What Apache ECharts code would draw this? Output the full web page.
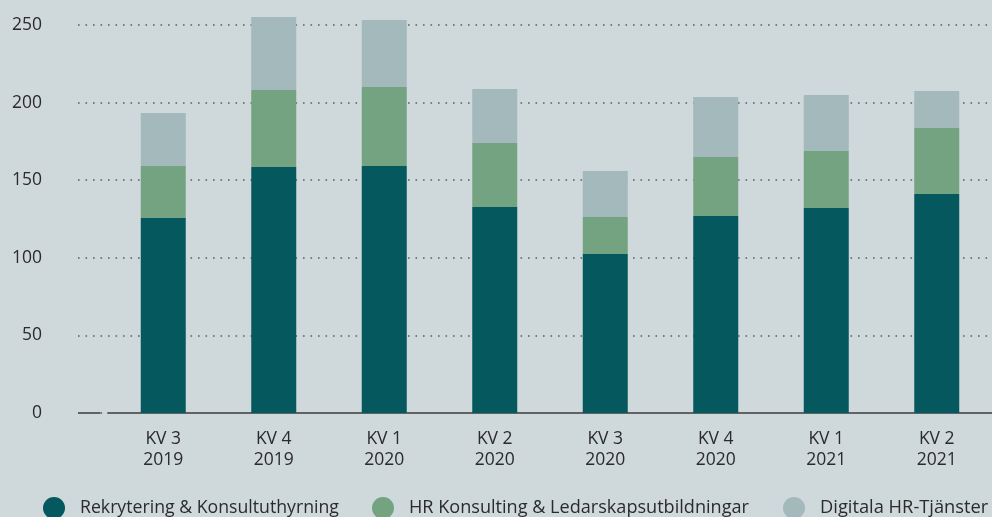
<!DOCTYPE html>
<html><head><meta charset="utf-8">
<script src="https://cdn.jsdelivr.net/npm/echarts@6/dist/echarts.min.js"></script>
<style>html,body{margin:0;padding:0;background:#cfd8db;}#c{width:992px;height:517px;}</style>
</head><body><div id="c"></div>
<script>
const categories = ['KV 3\n2019','KV 4\n2019','KV 1\n2020','KV 2\n2020','KV 3\n2020','KV 4\n2020','KV 1\n2021','KV 2\n2021'];
const rekrytering = [125.6, 158.5, 159.1, 132.7, 102.4, 126.9, 132.1, 141.1];
const hrKonsulting = [33.5, 49.6, 50.9, 41.3, 23.9, 38.1, 36.7, 42.5];
const digitala = [34.2, 47.1, 43.2, 34.8, 29.6, 38.6, 36.1, 23.9];
const seriesNames = ['Rekrytering & Konsultuthyrning', 'HR Konsulting & Ledarskapsutbildningar', 'Digitala HR-Tjänster'];
const yTicks = { min: 0, max: 250, interval: 50 };

const FONT = '"Open Sans"';
const TXT = '#2b2b2b';
const chart = echarts.init(document.getElementById('c'), null, {renderer: 'canvas'});
const colors = ['#04585e', '#74a382', '#a4b9bc'];
const mk = (name, data, i) => ({
  name, type: 'bar', stack: 'total', data, xAxisIndex: 1, yAxisIndex: 1,
  barWidth: 45, clip: false, itemStyle: { color: colors[i] }, emphasis: { disabled: true }
});
const legendLefts = [43, 372, 783];
const legendSizes = [17.7, 18.1, 18.3];
chart.setOption({
  backgroundColor: '#cfd8db',
  animation: false,
  textStyle: { fontFamily: FONT },
  grid: [
    { left: 78, right: 2, top: 25, bottom: 104 },
    { left: 108, right: 0, top: 25, bottom: 104 }
  ],
  xAxis: [
    { type: 'value', gridIndex: 0, min: 0, max: 1, show: true,
      axisLine: { show: false }, axisTick: { show: false }, axisLabel: { show: false }, splitLine: { show: false } },
    { type: 'category', gridIndex: 1, data: categories,
      axisLine: { show: true, lineStyle: { color: '#5f6364', width: 2 } },
      axisTick: { show: false },
      axisLabel: { color: TXT, fontSize: 17.5, lineHeight: 21, margin: 16, fontFamily: FONT } }
  ],
  yAxis: [
    { type: 'value', gridIndex: 0, min: yTicks.min, max: yTicks.max, interval: yTicks.interval,
      axisLine: { show: false }, axisTick: { show: false },
      axisLabel: { color: TXT, fontSize: 17.5, margin: 36, fontFamily: FONT },
      splitLine: { show: true, lineStyle: { color: '#5a6062', width: 1.6, type: [1.6, 5.9] } } },
    { type: 'value', gridIndex: 1, min: yTicks.min, max: yTicks.max, interval: yTicks.interval, show: false,
      splitLine: { show: false } }
  ],
  legend: seriesNames.map((n, i) => ({
    left: legendLefts[i], top: 497, itemWidth: 22, itemHeight: 22, icon: 'circle', padding: 0,
    textStyle: { color: TXT, fontSize: legendSizes[i], fontFamily: FONT, padding: [0, 0, 0, 10] },
    data: [n]
  })),
  series: [
    mk(seriesNames[0], rekrytering, 0),
    mk(seriesNames[1], hrKonsulting, 1),
    mk(seriesNames[2], digitala, 2),
    { type: 'line', xAxisIndex: 0, yAxisIndex: 0, data: [], silent: true,
      markLine: { silent: true, symbol: 'none', label: { show: false },
        lineStyle: { color: '#5f6364', width: 2, type: 'solid' },
        data: [[{ coord: [0, 0] }, { coord: [0.0246, 0] }]] } }
  ]
});
</script></body></html>
